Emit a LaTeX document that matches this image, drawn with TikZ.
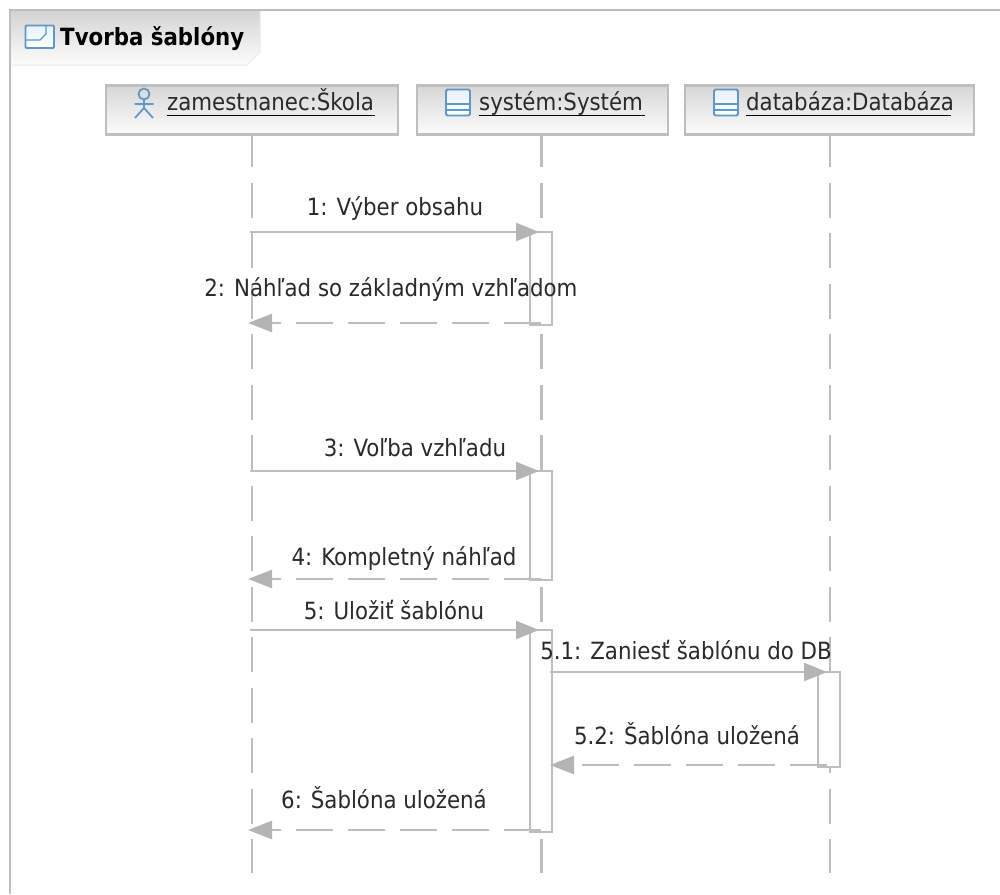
\documentclass[tikz,border=0pt]{standalone}
\usepackage{fontspec}
\setmainfont{DejaVu Sans Condensed}
\usetikzlibrary{arrows.meta}
\definecolor{ln}{HTML}{BEBEBE}
\definecolor{tip}{HTML}{B4B4B4}
\definecolor{tx}{HTML}{2A2A2A}
\definecolor{ic}{HTML}{5F97C8}
\definecolor{icl}{HTML}{E6F1FB}
\tikzset{
  x=1pt,y=-1pt,
  line/.style={draw=ln,line width=2.4pt},
  head/.style={line,rectangle,top color=black!16,bottom color=black!1,minimum width=#1,minimum height=49pt,inner sep=0pt},
  lname/.style={inner sep=0pt,text=tx,font=\fontsize{23.7}{26}\selectfont,anchor=base west},
  ul/.style={draw=black,line width=1.3pt},
  life/.style={line,dash pattern=on 35pt off 15.5pt},
  bar/.style={line,fill=white,rectangle,minimum width=22pt,inner sep=0pt},
  call/.style={line,-{Triangle[length=23pt,width=18pt,color=tip]}},
  ret/.style={line,dash pattern=on 37pt off 15pt,-{Triangle[length=24pt,width=18pt,color=tip]}},
  msg/.style={inner sep=0pt,text=tx,font=\fontsize{23.7}{26}\selectfont},
  icon/.style={draw=ic,line width=1.8pt,rounded corners=1.5pt,top color=icl,bottom color=white},
  actor/.style={draw=ic,line width=1.8pt},
}
\begin{document}
\begin{tikzpicture}
\useasboundingbox (0,0) rectangle (1000,894);
\fill[white] (0,0) rectangle (1000,894);
% frame
\draw[line] (10,894) -- (10,10) -- (1000,10);
\shade[top color=black!17,bottom color=black!1] (11,11) -- (260,11) -- (260,52) -- (247,65) -- (11,65) -- cycle;
\draw[draw=black!8,line width=1pt] (11,65) -- (247,65) -- (260,52) -- (260,11);
\draw[icon,rounded corners=1pt] (25.5,25.5) rectangle (54,48);
\draw[draw=ic,line width=1.4pt] (25.5,40) -- (40,40) -- (46,34) -- (46,25.5);
\node[inner sep=0pt,anchor=base west,text=black,font=\fontsize{23.7}{26}\selectfont\bfseries] (title) at (60,45) {Tvorba šablóny};
% lifeline ends
\coordinate (la) at (252,873);
\coordinate (lb) at (541.5,873);
\coordinate (lc) at (830,873);
\coordinate (ta) at (252,132);
\coordinate (tb) at (541.5,132);
\coordinate (tc) at (830,132);
\draw[life] (ta) -- (la);
\draw[life] (tb) -- (lb);
\draw[life] (tc) -- (lc);
% heads
\node[head=292pt] (ha) at (252,110) {};
\node[head=251pt] (hb) at (542.5,110) {};
\node[head=289pt] (hc) at (829.5,110) {};
\node[lname] (na) at (167,110.5) {zamestnanec:Škola};
\node[lname] (nb) at (479,110.5) {systém:Systém};
\node[lname] (nc) at (746,110.5) {databáza:Databáza};
\draw[ul] (na.base west)++(0,5.2) -- ++(208,0);
\draw[ul] (nb.base west)++(0,5.2) -- ++(166,0);
\draw[ul] (nc.base west)++(0,5.2) -- ++(205,0);
% actor icon
\draw[actor] (144,94) circle (5.5);
\draw[actor] (144,99.5) -- (144,108) (134.5,104) -- (153.5,104) (135,118) -- (144,108) -- (153,118);
% class icons
\draw[icon] (446,89.5) rectangle (470,115.5);
\draw[draw=ic,line width=1.4pt] (446,104) -- (470,104) (446,110) -- (470,110);
\draw[icon] (714,89.5) rectangle (738,115.5);
\draw[draw=ic,line width=1.4pt] (714,104) -- (738,104) (714,110) -- (738,110);
% activations
\node[bar,minimum height=93pt] (b1) at (541,278.5) {};
\node[bar,minimum height=109pt] (b2) at (541,525.5) {};
\node[bar,minimum height=202pt] (b3) at (541,731) {};
\node[bar,minimum height=95pt] (d1) at (829,719.5) {};
% message ends on lifeline a
\coordinate (a1) at (250,232);
\coordinate (a2) at (248,323);
\coordinate (a3) at (250,471);
\coordinate (a4) at (248,579);
\coordinate (a5) at (250,630);
\coordinate (a6) at (248,830);
\coordinate (s1) at (539,232);
\coordinate (s2) at (541,323);
\coordinate (s3) at (539,471);
\coordinate (s4) at (541,579);
\coordinate (s5) at (539,630);
\coordinate (s6) at (541,830);
\coordinate (s51) at (550,672);
\coordinate (d51) at (827,672);
\coordinate (s52) at (550,765);
\coordinate (d52) at (827,765);
% messages
\draw[call] (a1) -- (s1);
\draw[ret] (s2) -- (a2);
\draw[call] (a3) -- (s3);
\draw[ret] (s4) -- (a4);
\draw[call] (a5) -- (s5);
\draw[ret] (s6) -- (a6);
\draw[call] (s51) -- (d51);
\draw[ret] (d52) -- (s52);
% labels
\node[msg] (t1) at (395,208.5) {1: Výber obsahu};
\node[msg] (t2) at (391,289.5) {2: Náhľad so základným vzhľadom};
\node[msg] (t3) at (415,447.5) {3: Voľba vzhľadu};
\node[msg] (t4) at (404,558.5) {4: Kompletný náhľad};
\node[msg] (t5) at (394,610.5) {5: Uložiť šablónu};
\node[msg] (t51) at (686,650.5) {5.1: Zaniesť šablónu do DB};
\node[msg] (t52) at (687,733.5) {5.2: Šablóna uložená};
\node[msg] (t6) at (384,797.5) {6: Šablóna uložená};
\end{tikzpicture}
\end{document}
